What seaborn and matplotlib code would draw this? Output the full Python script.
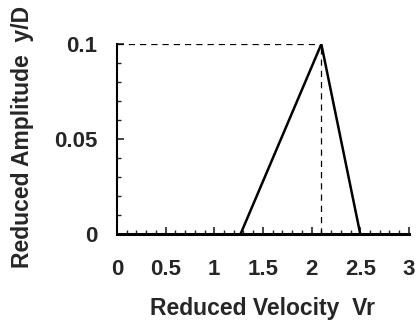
import matplotlib
matplotlib.use("Agg")
import matplotlib.pyplot as plt
import numpy as np
import pandas as pd
import seaborn as sns
from matplotlib.ticker import MultipleLocator

# response curve (triangle) and peak marker
velocity = [1.27, 2.1, 2.5]
amplitude = [0.0, 0.1, 0.0]
peak_velocity = 2.1
peak_amplitude = 0.1

x_ticks = [0, 0.5, 1, 1.5, 2, 2.5, 3]
x_tick_labels = ["0", "0.5", "1", "1.5", "2", "2.5", "3"]
y_ticks = [0, 0.05, 0.1]
y_tick_labels = ["0", "0.05", "0.1"]

sns.set_style("ticks")
plt.rcParams["font.family"] = ["Liberation Sans", "DejaVu Sans"]
plt.rcParams["font.weight"] = "bold"

fig = plt.figure(figsize=(4.19, 3.22), dpi=100)
ax = fig.add_axes([0.279, 0.273, 0.697, 0.590])

df = pd.DataFrame({"Vr": velocity, "yD": amplitude})
sns.lineplot(data=df, x="Vr", y="yD", ax=ax, color="black", linewidth=1.8, sort=False)

# dashed guides to the peak
ax.plot([0, peak_velocity], [peak_amplitude, peak_amplitude], ls=(0, (5, 4)), color="black", lw=0.9)
ax.plot([peak_velocity, peak_velocity], [0, peak_amplitude], ls=(0, (5, 4)), color="black", lw=0.9)

ax.set_xlim(0, 3)
ax.set_ylim(0, 0.1)
ax.set_xticks(x_ticks)
ax.set_xticklabels(x_tick_labels)
ax.set_yticks(y_ticks)
ax.set_yticklabels(y_tick_labels)
ax.xaxis.set_minor_locator(MultipleLocator(0.1))
ax.yaxis.set_minor_locator(MultipleLocator(0.01))
ax.tick_params(which="major", direction="in", length=5, width=1.2, labelsize=16)
ax.tick_params(which="minor", direction="in", length=3, width=1.0)
ax.tick_params(axis="x", which="major", pad=18)
ax.tick_params(axis="y", which="major", pad=14)

for side in ["top", "right"]:
    ax.spines[side].set_visible(False)
ax.spines["left"].set_linewidth(1.5)
ax.spines["bottom"].set_linewidth(2.2)
ax.spines["left"].set_color("black")
ax.spines["bottom"].set_color("black")

ax.set_xlabel("Reduced Velocity  Vr", fontsize=16.5, fontweight="bold")
ax.set_ylabel("Reduced Amplitude  y/D", fontsize=16.5, fontweight="bold")
ax.xaxis.label.set_va("center")
ax.yaxis.label.set_va("center")
ax.xaxis.set_label_coords(0.5, -0.39)
ax.yaxis.set_label_coords(-0.322, 0.51)

for lbl in ax.get_xticklabels() + ax.get_yticklabels():
    lbl.set_fontweight("bold")

fig.savefig("out.png", dpi=100)
